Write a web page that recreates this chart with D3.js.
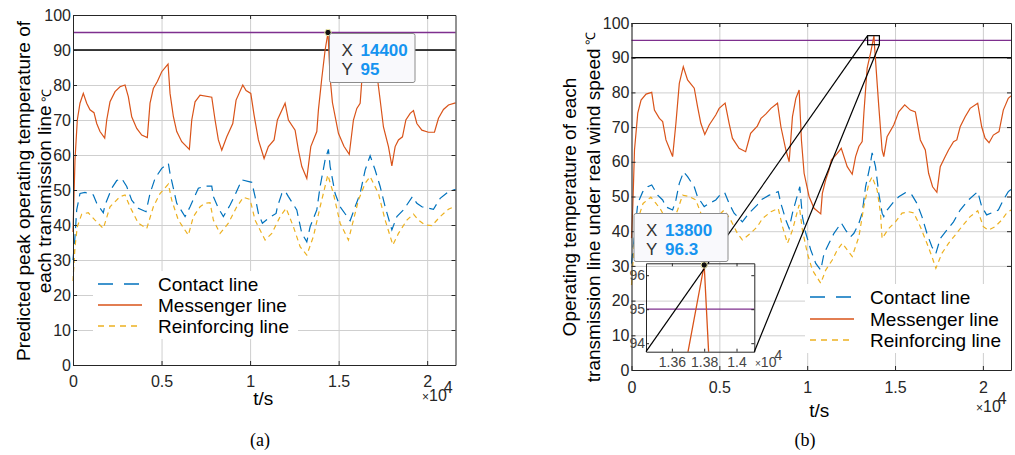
<!DOCTYPE html>
<html>
<head>
<meta charset="utf-8">
<script src="https://cdn.jsdelivr.net/npm/d3@7"></script>
<style>
  body { margin: 0; background: #fff; }
  svg { display: block; font-family: "Liberation Sans", Arial, Helvetica, sans-serif; }
</style>
</head>
<body>
<svg id="chart" width="1015" height="455"></svg>
<script>
// ---------- data ----------
const xTicks = [0, 5000, 10000, 15000, 20000];
const xTickLabels = ['0', '0.5', '1', '1.5', '2'];
const yTicks = [0, 10, 20, 30, 40, 50, 60, 70, 80, 90, 100];
const limitLines = [90, 95];
const legendNames = ['Contact line', 'Messenger line', 'Reinforcing line'];

// (a) predicted peak temperature, [t, degC]
const leftContact = [[0,30],[113,36.7],[209,44.3],[395,49],[678,49.3],[1147,48.6],[1339,46.2],[1712,43.5],[1808,45.7],[2186,50.5],[2469,52.7],[2751,53.3],[3034,51],[3316,47.1],[3689,44.8],[4124,43.8],[4350,49],[4633,53.3],[5011,56.2],[5384,57.6],[5480,54.7],[5859,46.2],[6328,42.4],[6610,45.2],[7079,50.5],[7458,51.1],[7836,51.1],[7927,48.1],[8209,44.8],[8492,42.4],[8870,45.7],[9153,48.6],[9531,52.9],[10096,52.2],[10282,48.1],[10469,43.3],[10695,40.5],[11034,41.9],[11469,43.3],[11542,45.2],[11791,49],[11977,49.7],[12164,48.1],[12638,44.3],[12921,37.6],[13203,35.2],[13390,39.5],[13768,44.3],[13955,51],[14237,58.6],[14424,61.6],[14520,56.7],[14802,49],[15085,45.2],[15650,41.2],[15932,45.2],[16215,49],[16497,55.7],[16780,59.8],[17062,55.7],[17345,51],[17627,45.2],[18006,38.6],[18288,42.4],[18661,44.3],[19169,48.1],[19418,46.2],[19701,45.2],[20356,44.5],[20734,47.6],[21203,49.5],[21600,50.2]];
const leftMessenger = [[0,38],[113,58.6],[243,70],[395,74.8],[582,77.6],[774,74.8],[960,72.9],[1186,72.1],[1339,69],[1525,66.7],[1791,64.8],[1904,70],[2090,75.2],[2373,78.1],[2655,79.5],[2938,80],[3124,76.7],[3316,70.9],[3599,67.6],[3881,65.7],[4198,65],[4350,74.8],[4537,79],[4763,81],[5011,83.8],[5367,86],[5480,77.6],[5667,71],[5859,66.7],[6141,63.8],[6571,61.6],[6706,70],[6893,75.2],[7175,77.1],[7836,76.5],[8023,70],[8209,64.3],[8401,61.4],[8684,65.2],[9023,69],[9209,75.7],[9588,80],[9774,78.4],[10040,77.6],[10226,71.4],[10469,64.3],[10791,59],[11034,62.4],[11356,64.3],[11542,70],[11977,74.8],[12164,70],[12542,67.1],[12729,61.4],[12921,56.7],[13203,53.3],[13429,62.4],[13768,66.7],[13859,72.9],[14051,82],[14237,90],[14400,95],[14520,82],[14650,75],[14989,66.2],[15300,62.5],[15600,60.2],[15836,70],[16028,73.3],[16215,74.8],[16311,81.4],[16723,85],[17158,83.3],[17345,75.7],[17531,68],[17814,62.4],[18006,56.9],[18192,62.4],[18379,64.3],[18605,65.2],[18797,70],[19040,71.9],[19226,72.7],[19418,69],[19701,67.1],[20073,66.5],[20412,66.5],[20638,70.5],[20921,73],[21203,74.3],[21600,74.9]];
const leftReinforcing = [[0,24],[113,33.8],[243,39.5],[492,43.1],[864,43.5],[1243,41.4],[1712,39],[2090,45.2],[2655,48.1],[2938,48.6],[3220,45.2],[3689,40.5],[4164,39],[4537,45.2],[4915,49],[5384,51.7],[5576,47.1],[5949,41.4],[6514,37.1],[6797,42.4],[7175,45.2],[7458,46.2],[7740,46.4],[7927,41.4],[8305,37.6],[8774,40.5],[9249,45.2],[9621,47.9],[10000,47.3],[10282,41.4],[10847,35.7],[11226,37.6],[11695,42.4],[12034,44.8],[12446,39.5],[12825,33.8],[13203,31.4],[13576,36.7],[13955,45.2],[14390,54.3],[14706,49],[15085,40.5],[15554,35.7],[15836,41.4],[16119,47.1],[16497,51.9],[16780,53.8],[17249,49],[17627,41.4],[18062,34.3],[18379,37.6],[18853,41.4],[19226,43.1],[19508,41.4],[19887,40],[20266,39.8],[20734,42.4],[21203,44.5],[21600,45.4]];

// (b) temperature under real wind speed, [t, degC]
const rightContact = [[0,30.7],[357,48],[641,51.4],[924,52.8],[1151,53.3],[1491,50.4],[1774,49],[1961,47],[2341,46.1],[2528,49],[2721,53.8],[2965,57.1],[3192,55.7],[3571,52.8],[3759,49.9],[4138,47.1],[4422,48],[4796,49],[5079,50.7],[5306,51.1],[5556,48],[5839,45.2],[6310,42.7],[6689,45.2],[7160,47.6],[7370,49],[7840,50.4],[8350,51.4],[8503,48],[8787,43.2],[8974,40.8],[9161,45.2],[9444,50.4],[9580,52.8],[9728,44.2],[9921,39.4],[10204,34.6],[10488,30.7],[10771,28.8],[10958,33.6],[11241,36.5],[11525,39.4],[11939,42.4],[12188,40.3],[12472,38.4],[12659,39.4],[12942,42.3],[13129,45.2],[13322,52.8],[13566,58.6],[13696,62.6],[13889,58.6],[14076,50.9],[14263,45.2],[14359,44.2],[14546,46.1],[14926,48.5],[15210,49.9],[15590,51.1],[15964,50.4],[16247,48],[16531,44.2],[16814,39.4],[17098,35.5],[17324,33.6],[17574,37.9],[17948,40.3],[18328,42.7],[18707,46.1],[19178,49],[19705,51.4],[19932,47.1],[20215,44.7],[20499,45.3],[20879,46.1],[21162,49],[21446,51.4],[21600,52]];
const rightMessenger = [[0,38],[74,47],[170,63.4],[357,74],[544,77.8],[828,79.5],[1151,80],[1304,74.9],[1587,72.5],[1774,71.6],[1961,66.3],[2341,61.5],[2528,71.1],[2721,82.6],[2948,87.4],[3192,83.6],[3571,81.2],[3759,75.9],[3946,71.1],[4172,67.9],[4422,70.6],[4796,73.5],[4989,75.4],[5329,76.9],[5556,71.1],[5743,66.8],[6122,63.9],[6497,62.9],[6780,68.2],[7160,70.3],[7370,72.5],[7653,73.8],[7937,75.4],[8311,76.9],[8503,70.1],[8787,63.4],[8974,60],[9161,73],[9354,78.3],[9541,80.7],[9671,66.3],[9824,56.7],[10107,50],[10391,46.6],[10771,45],[10862,50.9],[11054,54.8],[11241,57.6],[11372,60.5],[11712,62.4],[11939,63.9],[12092,61.5],[12279,58.6],[12562,56.4],[12755,61.5],[12942,64.4],[13129,65.8],[13226,74],[13413,87],[13600,91.2],[13800,96.3],[13830,93.5],[14076,75.9],[14263,63.4],[14359,61.5],[14546,67.2],[14926,70.6],[15210,74.4],[15550,76.4],[15873,74.9],[16156,74.4],[16440,66.3],[16723,63.4],[16910,56.7],[17137,52.8],[17381,51.2],[17574,58.6],[17857,61.5],[18044,63.4],[18328,65.8],[18515,66.3],[18707,70.1],[18991,73],[19274,75.4],[19705,76.9],[19932,70.1],[20125,66.8],[20351,65.5],[20595,67.7],[20918,68.7],[21162,74.9],[21446,78.3],[21600,79]];
const rightReinforcing = [[0,24.5],[150,36],[400,44],[658,48],[1100,49.8],[1395,48],[1678,46.1],[1871,44.2],[2245,41.3],[2625,46.1],[2908,50.4],[3288,50],[3662,49],[3946,45.2],[4138,41.3],[4512,43.2],[4892,44.2],[5272,46.1],[5646,43.2],[6026,39.4],[6310,37.5],[6780,39.4],[7160,41.3],[7460,43.7],[7937,45.6],[8350,46.6],[8594,41.3],[8878,36.5],[9161,40.3],[9541,47.6],[9728,40.3],[10011,33.6],[10295,28.8],[10771,25],[11054,28.8],[11428,31.7],[11712,34.6],[11995,36.5],[12279,34.6],[12562,32.7],[12942,38.4],[13226,47.1],[13509,53.8],[13696,55.7],[13980,51.9],[14172,45.2],[14263,37.9],[14643,40.8],[15023,42.7],[15397,45.2],[15777,45.6],[16060,45.3],[16440,41.3],[16814,36.5],[17098,32.7],[17324,29.3],[17664,33.6],[18044,36.5],[18424,38.9],[18798,41.3],[19274,44.2],[19705,45.9],[20028,41.3],[20312,40.3],[20692,41.3],[21066,43.2],[21349,45.2],[21600,46.1]];

// datatips and zoom inset
const tipLeft = [14400, 95];
const tipRight = [13800, 96.3];
const insetXDomain = [13440, 14110];
const insetYDomain = [93.75, 96.35];
const insetXTicks = [13600, 13800, 14000];
const insetXTickLabels = ['1.36', '1.38', '1.4'];
const insetYTicks = [94, 95, 96];

// ---------- styles ----------
const colors = { contact: '#0072BD', messenger: '#D95319', reinforcing: '#EDB120' };
const dashes = { contact: '10,6', messenger: null, reinforcing: '5,4' };
const legendDashes = { contact: '15,11', messenger: null, reinforcing: '6,5' };
const limitColors = { 90: '#000000', 95: '#7E2F8E' };
const axisColor = '#262626';
const gridColor = '#cfcfcf';

const svg = d3.select('#chart');
svg.append('rect').attr('width', 1015).attr('height', 455).attr('fill', '#fff');

function drawPanel(cfg) {
    const x = d3.scaleLinear().domain([0, 21600]).range([cfg.left, cfg.right]);
    const y = d3.scaleLinear().domain([0, 100]).range([cfg.bottom, cfg.top]);
    const w = cfg.right - cfg.left;
    const h = cfg.bottom - cfg.top;
    const g = svg.append('g');

    // grid
    g.append('g')
        .attr('transform', `translate(0,${cfg.bottom})`)
        .call(d3.axisBottom(x).tickValues(xTicks).tickSize(-h).tickFormat(''))
        .call((a) => a.select('.domain').remove())
        .call((a) => a.selectAll('line').attr('stroke', gridColor));
    g.append('g')
        .attr('transform', `translate(${cfg.left},0)`)
        .call(d3.axisLeft(y).tickValues(yTicks).tickSize(-w).tickFormat(''))
        .call((a) => a.select('.domain').remove())
        .call((a) => a.selectAll('line').attr('stroke', gridColor));

    // limit lines at 90 and 95
    g.selectAll('.limit')
        .data(limitLines)
        .enter()
        .append('line')
        .attr('x1', cfg.left)
        .attr('x2', cfg.right)
        .attr('y1', (d) => y(d))
        .attr('y2', (d) => y(d))
        .attr('stroke', (d) => limitColors[d])
        .attr('stroke-width', 1.3);

    // series
    const line = d3.line().x((d) => x(d[0])).y((d) => y(d[1]));
    ['contact', 'messenger', 'reinforcing'].forEach((key) => {
        g.append('path')
            .datum(cfg.series[key])
            .attr('d', line)
            .attr('fill', 'none')
            .attr('stroke', colors[key])
            .attr('stroke-width', 1.2)
            .attr('stroke-dasharray', dashes[key]);
    });

    // axes box with inward ticks
    const styleAxis = (a) => {
        a.select('.domain').attr('stroke', axisColor);
        a.selectAll('.tick line').attr('stroke', axisColor);
        a.selectAll('text')
            .attr('fill', axisColor)
            .attr('font-size', 16)
            .attr('font-family', '"Liberation Sans", Arial, sans-serif');
    };
    g.append('g')
        .attr('transform', `translate(0,${cfg.bottom})`)
        .call(d3.axisBottom(x).tickValues(xTicks).tickFormat((d, i) => xTickLabels[i]).tickSizeInner(-4).tickSizeOuter(0))
        .call(styleAxis)
        .call((a) => a.selectAll('text').attr('y', cfg.xLabelY).attr('dy', 0));
    g.append('g')
        .attr('transform', `translate(0,${cfg.top})`)
        .call(d3.axisTop(x).tickValues(xTicks).tickFormat('').tickSizeInner(-4).tickSizeOuter(0))
        .call(styleAxis);
    g.append('g')
        .attr('transform', `translate(${cfg.left},0)`)
        .call(d3.axisLeft(y).tickValues(yTicks).tickSizeInner(-4).tickSizeOuter(0))
        .call(styleAxis)
        .call((a) => a.selectAll('text').attr('x', -2));
    g.append('g')
        .attr('transform', `translate(${cfg.right},0)`)
        .call(d3.axisRight(y).tickValues(yTicks).tickFormat('').tickSizeInner(-4).tickSizeOuter(0))
        .call(styleAxis);

    // x10^4 exponent
    const ex = g.append('text')
        .attr('x', cfg.expX)
        .attr('y', cfg.expY)
        .attr('font-size', 16)
        .attr('fill', axisColor);
    ex.append('tspan').attr('font-size', 12).text('×');
    ex.append('tspan').text('10');
    ex.append('tspan').attr('dy', -8).attr('dx', -3).text('4');

    // axis titles
    g.append('text')
        .attr('x', (cfg.left + cfg.right) / 2 + cfg.tsShift)
        .attr('y', cfg.tsY)
        .attr('text-anchor', 'middle')
        .attr('font-size', 19)
        .attr('fill', '#000')
        .text('t/s');
    cfg.yTitle.forEach((txt, i) => {
        const t = g.append('text')
            .attr('transform', `translate(${cfg.yTitleX[i]},${cfg.yTitleCenter}) rotate(-90)`)
            .attr('text-anchor', 'middle')
            .attr('font-size', 19)
            .attr('fill', '#000')
            .text(txt);
        if (i === cfg.yTitle.length - 1) {
            t.append('tspan').attr('font-size', 13).attr('dy', cfg.degDy).text(' ℃');
        }
    });

    // legend
    const lg = g.append('g');
    lg.append('rect')
        .attr('x', cfg.legend.x - 5)
        .attr('y', cfg.legend.rows[0] - 13)
        .attr('width', cfg.legend.w)
        .attr('height', cfg.legend.rows[2] - cfg.legend.rows[0] + 26)
        .attr('fill', '#fff');
    ['contact', 'messenger', 'reinforcing'].forEach((key, i) => {
        const yy = cfg.legend.rows[i];
        lg.append('line')
            .attr('x1', cfg.legend.x)
            .attr('x2', cfg.legend.x + 44)
            .attr('y1', yy)
            .attr('y2', yy)
            .attr('stroke', colors[key])
            .attr('stroke-width', 1.3)
            .attr('stroke-dasharray', legendDashes[key]);
        lg.append('text')
            .attr('x', cfg.legend.x + 60)
            .attr('y', yy)
            .attr('dy', '0.35em')
            .attr('font-size', 19)
            .attr('fill', '#000')
            .text(legendNames[i]);
    });

    // caption
    g.append('text')
        .attr('x', cfg.capX)
        .attr('y', 446)
        .attr('text-anchor', 'middle')
        .attr('font-size', 18)
        .attr('font-family', '"Liberation Serif", "Times New Roman", serif')
        .text(cfg.caption);

    return { x, y, g };
}

function datatip(g, bx, by, bw, bh, xv, yv) {
    g.append('rect')
        .attr('x', bx).attr('y', by).attr('width', bw).attr('height', bh)
        .attr('rx', 2)
        .attr('fill', '#f9f9fc')
        .attr('stroke', '#8c8c8c');
    [['X', xv], ['Y', yv]].forEach((row, i) => {
        const ty = by + 17 + i * 19;
        g.append('text')
            .attr('x', bx + 12).attr('y', ty).attr('dy', '0.35em')
            .attr('font-size', 17).attr('fill', '#333')
            .text(row[0]);
        g.append('text')
            .attr('x', bx + 31).attr('y', ty).attr('dy', '0.35em')
            .attr('font-size', 17).attr('font-weight', 'bold').attr('fill', '#1694f0')
            .text(row[1]);
    });
}

function marker(g, px, py) {
    g.append('circle')
        .attr('cx', px).attr('cy', py).attr('r', 3.2)
        .attr('fill', '#111')
        .attr('stroke', '#f3eeb0')
        .attr('stroke-width', 1);
}

// ---------- panel (a) ----------
const a = drawPanel({
    left: 73, right: 455.5, top: 15, bottom: 365,
    series: { contact: leftContact, messenger: leftMessenger, reinforcing: leftReinforcing },
    xLabelY: 22, expX: 422, expY: 401, tsShift: -1, tsY: 405,
    yTitle: ['Predicted peak operating temperature of', 'each transmission line'],
    yTitleX: [30, 51], yTitleCenter: 191, degDy: 0,
    legend: { x: 98, rows: [284, 305, 326], w: 205 },
    capX: 260, caption: '(a)',
});
marker(a.g, a.x(tipLeft[0]), a.y(tipLeft[1]));
datatip(a.g, 329.5, 33.5, 85.5, 49, '14400', '95');

// ---------- panel (b) ----------
const b = drawPanel({
    left: 631.5, right: 1011, top: 23, bottom: 370,
    series: { contact: rightContact, messenger: rightMessenger, reinforcing: rightReinforcing },
    xLabelY: 23, expX: 976, expY: 412, tsShift: -2, tsY: 417,
    yTitle: ['Operating temperature of each', 'transmission line under real wind speed'],
    yTitleX: [576, 600], yTitleCenter: 207, degDy: -5,
    legend: { x: 810, rows: [297, 319, 340], w: 206 },
    capX: 805, caption: '(b)',
});

// zoom inset in (b)
const ix = d3.scaleLinear().domain(insetXDomain).range([646, 754.3]);
const iy = d3.scaleLinear().domain(insetYDomain).range([351.7, 263.3]);
const ig = b.g.append('g');
svg.append('defs').append('clipPath').attr('id', 'insetClip')
    .append('rect').attr('x', 646).attr('y', 263.3).attr('width', 108.3).attr('height', 88.4);
const inner = ig.append('g').attr('clip-path', 'url(#insetClip)');
inner.append('line')
    .attr('x1', 646).attr('x2', 754.3)
    .attr('y1', iy(95)).attr('y2', iy(95))
    .attr('stroke', limitColors[95]).attr('stroke-width', 1.3);
inner.append('path')
    .datum(rightMessenger)
    .attr('d', d3.line().x((d) => ix(d[0])).y((d) => iy(d[1])))
    .attr('fill', 'none')
    .attr('stroke', colors.messenger)
    .attr('stroke-width', 1.3);
const insetAxis = (a) => {
    a.select('.domain').attr('stroke', axisColor);
    a.selectAll('.tick line').attr('stroke', axisColor);
    a.selectAll('text').attr('fill', '#444').attr('font-size', 14);
};
ig.append('g')
    .attr('transform', 'translate(0,351.7)')
    .call(d3.axisBottom(ix).tickValues(insetXTicks).tickFormat((d, i) => insetXTickLabels[i]).tickSizeInner(-3).tickSizeOuter(0))
    .call(insetAxis)
    .call((a) => a.selectAll('text').attr('y', 15).attr('dy', 0));
ig.append('g')
    .attr('transform', 'translate(0,263.3)')
    .call(d3.axisTop(ix).tickValues(insetXTicks).tickFormat('').tickSizeInner(-3).tickSizeOuter(0))
    .call(insetAxis);
ig.append('g')
    .attr('transform', 'translate(646,0)')
    .call(d3.axisLeft(iy).tickValues(insetYTicks).tickFormat(d3.format('d')).tickSizeInner(-3).tickSizeOuter(0))
    .call(insetAxis)
    .call((a) => a.selectAll('text').attr('x', -1));
ig.append('g')
    .attr('transform', 'translate(754.3,0)')
    .call(d3.axisRight(iy).tickValues(insetYTicks).tickFormat('').tickSizeInner(-3).tickSizeOuter(0))
    .call(insetAxis);
const iex = ig.append('text').attr('x', 755).attr('y', 367).attr('font-size', 14).attr('fill', '#444');
iex.append('tspan').attr('font-size', 10).text('×');
iex.append('tspan').text('10');
iex.append('tspan').attr('dy', -7).attr('dx', -2).text('4');

// zoom rectangle and connector lines
const zx0 = b.x(insetXDomain[0]), zx1 = b.x(insetXDomain[1]);
const zy0 = b.y(insetYDomain[1]), zy1 = b.y(insetYDomain[0]);
b.g.append('rect')
    .attr('x', zx0).attr('y', zy0)
    .attr('width', zx1 - zx0).attr('height', zy1 - zy0)
    .attr('fill', 'none').attr('stroke', '#000').attr('stroke-width', 1.2);
b.g.append('line')
    .attr('x1', zx0).attr('y1', zy0).attr('x2', 646).attr('y2', 351.7)
    .attr('stroke', '#000').attr('stroke-width', 1.2);
b.g.append('line')
    .attr('x1', zx1).attr('y1', zy1).attr('x2', 754.3).attr('y2', 351.7)
    .attr('stroke', '#000').attr('stroke-width', 1.2);

marker(b.g, ix(tipRight[0]), iy(tipRight[1]));
datatip(b.g, 634, 213.5, 94, 48, '13800', '96.3');
</script>
</body>
</html>
